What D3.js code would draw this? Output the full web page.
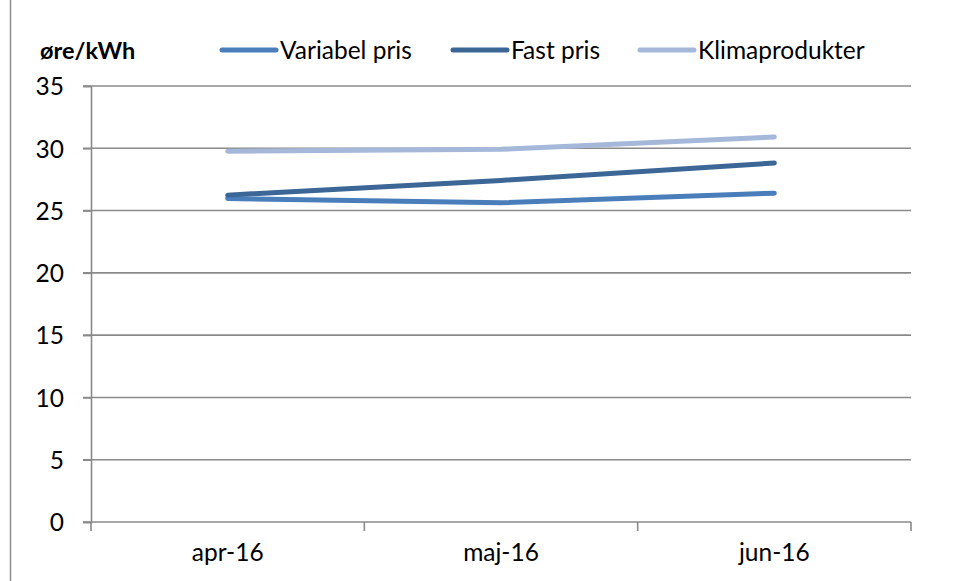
<!DOCTYPE html>
<html>
<head>
<meta charset="utf-8">
<script src="https://cdn.jsdelivr.net/npm/d3@7/dist/d3.min.js"></script>
<style>
  body { margin: 0; background: #fff; }
  svg text { font-family: Lato, "Open Sans", sans-serif; fill: #000; }
</style>
</head>
<body>
<svg id="canvas" width="959" height="581"></svg>
<script>
// data
const months = ["apr-16", "maj-16", "jun-16"]
const variabel = [25.97, 25.62, 26.4]
const fast = [26.24, 27.42, 28.82]
const klima = [29.76, 29.92, 30.91]
const yTicks = [0, 5, 10, 15, 20, 25, 30, 35]
const seriesNames = ["Variabel pris", "Fast pris", "Klimaprodukter"]
const seriesColors = ["#4a7ebb", "#3b6696", "#a5b8d9"]

const svg = d3.select('#canvas')

// frame line on the left
svg.append("line")
  .attr("x1", 10.5).attr("x2", 10.5)
  .attr("y1", 0).attr("y2", 581)
  .attr("stroke", "#8c8c8c").attr("stroke-width", 1.5)

const x = d3.scaleBand().domain(months).range([91, 911])
const y = d3.scaleLinear().domain([0, 35]).range([522, 86])

// gridlines
svg.append("g")
  .selectAll("line")
  .data(yTicks)
  .enter()
  .append("line")
  .attr("x1", 83).attr("x2", 911)
  .attr("y1", d => y(d)).attr("y2", d => y(d))
  .attr("stroke", "#8a8a8a").attr("stroke-width", 1.6)

// y axis
const yAxis = svg.append("g")
  .attr("transform", "translate(91,0)")
  .call(d3.axisLeft(y).tickValues(yTicks).tickSize(8).tickPadding(19))
yAxis.select(".domain").attr("stroke", "#8a8a8a").attr("stroke-width", 1.6)
yAxis.selectAll(".tick line").attr("stroke", "#8a8a8a").attr("stroke-width", 1.6)
yAxis.selectAll("text").attr("font-size", 24.5).attr("dy", "0.36em")

// x axis with ticks on band edges
const xAxis = svg.append("g")
  .attr("transform", "translate(0,522)")
  .call(d3.axisBottom(x).tickSize(0).tickPadding(22))
xAxis.select(".domain").remove()
xAxis.selectAll("text").attr("font-size", 24.5)
svg.append("g")
  .selectAll("line")
  .data(months.map(m => x(m)).concat([x.range()[1]]))
  .enter()
  .append("line")
  .attr("x1", d => d).attr("x2", d => d)
  .attr("y1", 522).attr("y2", 531)
  .attr("stroke", "#8a8a8a").attr("stroke-width", 1.6)

// lines
const allSeries = [variabel, fast, klima]
const line = d3.line()
  .x((d, i) => x(months[i]) + x.bandwidth() / 2)
  .y(d => y(d))

svg.append("g")
  .selectAll("path")
  .data(allSeries)
  .enter()
  .append("path")
  .attr("d", d => line(d))
  .attr("fill", "none")
  .attr("stroke", (d, i) => seriesColors[i])
  .attr("stroke-width", 5)
  .attr("stroke-linecap", "round")
  .attr("stroke-linejoin", "round")

// unit title
svg.append("text")
  .attr("x", 40).attr("y", 59)
  .attr("font-size", 23.5).attr("font-weight", "bold")
  .text("øre/kWh")

// legend
const legendX = [222, 453, 640]
const leg = svg.append("g")
  .selectAll("g")
  .data(seriesNames)
  .enter()
  .append("g")
  .attr("transform", (d, i) => `translate(${legendX[i]},50)`)
leg.append("line")
  .attr("x1", 0).attr("x2", 54)
  .attr("stroke", (d, i) => seriesColors[i])
  .attr("stroke-width", 5)
  .attr("stroke-linecap", "round")
leg.append("text")
  .attr("x", 58).attr("y", 9)
  .attr("font-size", 24.5)
  .text(d => d)
</script>
</body>
</html>
